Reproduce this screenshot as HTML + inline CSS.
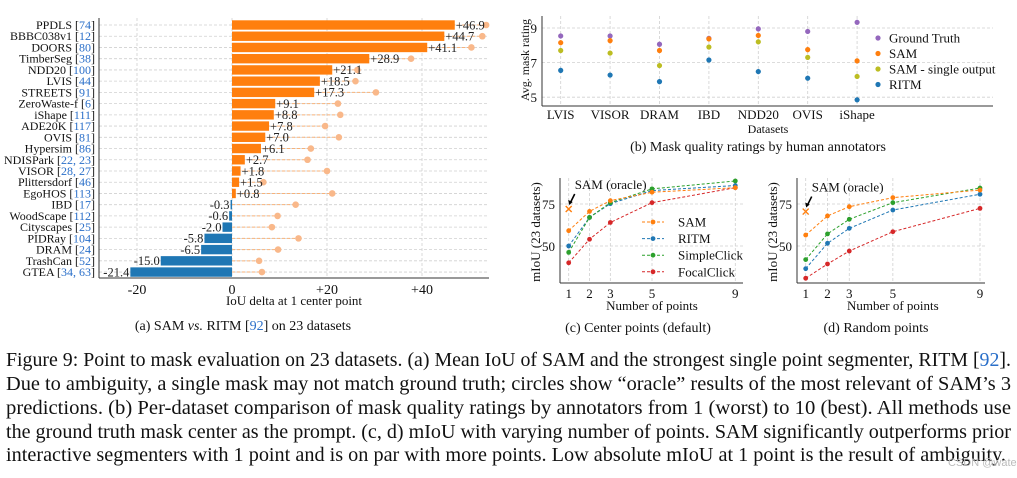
<!DOCTYPE html>
<html><head><meta charset="utf-8"><style>
html,body{margin:0;padding:0;background:#fff;}
svg{display:block;font-family:"Liberation Serif",serif;}
</style></head><body>
<svg id="fig" width="1017" height="478" viewBox="0 0 1017 478" xmlns="http://www.w3.org/2000/svg">
<g id="pa"></g>
<g id="pb"></g>
<g id="pc"></g>
<g id="pd"></g>
<g font-size="20" fill="#111">
<text x="6" y="366" textLength="1005" lengthAdjust="spacingAndGlyphs">Figure 9: Point to mask evaluation on 23 datasets. (a) Mean IoU of SAM and the strongest single point segmenter, RITM [<tspan fill="#2a6fc9">92</tspan>].</text>
<text x="6" y="390" textLength="1005" lengthAdjust="spacingAndGlyphs">Due to ambiguity, a single mask may not match ground truth; circles show “oracle” results of the most relevant of SAM’s 3</text>
<text x="6" y="414" textLength="1005" lengthAdjust="spacingAndGlyphs">predictions. (b) Per-dataset comparison of mask quality ratings by annotators from 1 (worst) to 10 (best). All methods use</text>
<text x="6" y="438" textLength="1005" lengthAdjust="spacingAndGlyphs">the ground truth mask center as the prompt. (c, d) mIoU with varying number of points. SAM significantly outperforms prior</text>
<text x="6" y="461" textLength="1000" lengthAdjust="spacingAndGlyphs">interactive segmenters with 1 point and is on par with more points. Low absolute mIoU at 1 point is the result of ambiguity.</text>
<text x="948" y="466" font-family="Liberation Sans, sans-serif" font-size="11" fill="#bbb">CSDN @watersink</text>
</g>
</svg>
<script>
// ---- Panel A data ----
const aNames=["PPDLS","BBBC038v1","DOORS","TimberSeg","NDD20","LVIS","STREETS","ZeroWaste-f","iShape","ADE20K","OVIS","Hypersim","NDISPark","VISOR","Plittersdorf","EgoHOS","IBD","WoodScape","Cityscapes","PIDRay","DRAM","TrashCan","GTEA"];
const aRefs=["74","12","80","38","100","44","91","6","111","117","81","86","22, 23","28, 27","46","113","17","112","25","104","24","52","34, 63"];
const aDelta=[46.9,44.7,41.1,28.9,21.1,18.5,17.3,9.1,8.8,7.8,7.0,6.1,2.7,1.8,1.5,0.8,-0.3,-0.6,-2.0,-5.8,-6.5,-15.0,-21.4];
const aOracle=[53.5,52.7,50.4,37.7,26.4,26.0,30.3,22.3,22.8,19.6,22.5,16.6,15.9,20.0,6.6,21.1,13.4,9.6,8.4,14.0,9.7,5.7,6.3];
const aTicks=[-20,0,20,40];
const aTickLabels=["-20","0","+20","+40"];
// ---- Panel B data ----
const bCats=["LVIS","VISOR","DRAM","IBD","NDD20","OVIS","iShape"];
const bGT=[8.54,8.54,8.06,8.4,8.95,8.8,9.33];
const bSAM=[8.15,8.27,7.7,8.37,8.57,7.75,7.1];
const bSingle=[7.7,7.55,6.83,7.9,8.2,7.3,6.2];
const bRITM=[6.55,6.28,5.9,7.15,6.48,6.1,4.85];
const bTicks=[5,7,9];
// ---- Panel C/D data ----
const pts=[1,2,3,5,9];
const cSAM=[59.1,70.6,77,82,84.7];
const cRITM=[50,67,75.2,83,86];
const cSimple=[46.2,67,75.8,84,88.7];
const cFocal=[40,54,64,75.8,84.7];
const cOracle=72;
const dSAM=[56.5,67.9,73.4,78.8,83.3];
const dRITM=[36.5,51.6,60.5,71.4,80.8];
const dSimple=[41.9,57.2,65.9,75.8,84.5];
const dFocal=[30.8,39.3,47,58.5,72.4];
const dOracle=70.5;
const yTicksCD=[50,75];

const NS="http://www.w3.org/2000/svg";
function mk(parent,tag,attrs,text){const e=document.createElementNS(NS,tag);for(const k in attrs)e.setAttribute(k,attrs[k]);if(text!==undefined)e.textContent=text;parent.appendChild(e);return e;}
const ORANGE="#ff7f0e",BLUE="#1f77b4",GREEN="#2ca02c",RED="#d62728",PURPLE="#9467bd",OLIVE="#bcbd22",GRID="#d0d0d0",SPINE="#333";

// ===== Panel A =====
(function(){
const g=document.getElementById('pa');
const x=v=>232+v*4.75, y=i=>25+i*11.23;
const L=99,R=489,T=18,B=278;
aTicks.forEach((t,i)=>{
  const gl=mk(g,'line',{x1:x(t),x2:x(t),y1:T,y2:B,stroke:GRID,'stroke-dasharray':'3,2','stroke-width':0.8});
  
  
  const tl=mk(g,'text',{x:x(t),y:294,'font-size':14,'text-anchor':'middle',fill:'#111'},aTickLabels[i]);
  
  
});
aNames.forEach((n,i)=>{
  const yy=y(i);
  mk(g,'line',{x1:L,x2:R,y1:yy,y2:yy,stroke:GRID,'stroke-dasharray':'3,2','stroke-width':0.8});
  const ol=mk(g,'line',{x1:x(0),x2:x(aOracle[i]),y1:yy,y2:yy,stroke:'#f7b27a','stroke-dasharray':'3,2','stroke-width':1});
  
  
  const oc=mk(g,'circle',{cx:x(aOracle[i]),cy:yy,r:3.3,fill:'#f9b88a'});
  
  
  const v=aDelta[i];
  const bar=mk(g,'rect',{x:Math.min(x(0),x(v)),y:yy-4.7,width:Math.max(Math.abs(x(v)-x(0)),1.5),height:9.4,fill:v>=0?ORANGE:BLUE});
  
  
  const lbl=v>=0?'+'+v.toFixed(1):v.toFixed(1);
  const vl=mk(g,'text',{x:v>=0?x(v)+1:x(v)-1,y:yy+4.3,'font-size':12.5,'text-anchor':v>=0?'start':'end',fill:'#222'},lbl);
  
  
  const yl=mk(g,'text',{x:95,y:yy+4,'font-size':12,'text-anchor':'end',fill:'#111'});
  
  
  mk(yl,'tspan',{},n+' [');mk(yl,'tspan',{fill:'#2a6fc9'},aRefs[i]);mk(yl,'tspan',{},']');
});
mk(g,'line',{x1:L,x2:L,y1:T,y2:B,stroke:SPINE,'stroke-width':1});
mk(g,'line',{x1:L,x2:R,y1:B,y2:B,stroke:SPINE,'stroke-width':1});
const xt=mk(g,'text',{x:294,y:305,'font-size':13,'text-anchor':'middle',fill:'#111'},'IoU delta at 1 center point');


const cap=mk(g,'text',{x:243,y:330,'font-size':14,'text-anchor':'middle',fill:'#111'});


mk(cap,'tspan',{},'(a) SAM ');mk(cap,'tspan',{'font-style':'italic'},'vs.');mk(cap,'tspan',{},' RITM [');mk(cap,'tspan',{fill:'#2a6fc9'},'92');mk(cap,'tspan',{},'] on 23 datasets');
})();

// ===== Panel B =====
(function(){
const g=document.getElementById('pb');
const L=542,R=993,T=16,B=106;
const x=i=>560.7+i*49.4, y=v=>28+(9-v)*17.3;
bTicks.forEach(t=>{
  mk(g,'line',{x1:L,x2:R,y1:y(t),y2:y(t),stroke:GRID,'stroke-dasharray':'3,2','stroke-width':0.8});
  const tl=mk(g,'text',{x:L-5,y:y(t)+5,'font-size':13,'text-anchor':'end',fill:'#111'},String(t));
  
  
});
bCats.forEach((c,i)=>{
  mk(g,'line',{x1:x(i),x2:x(i),y1:T,y2:B,stroke:GRID,'stroke-dasharray':'3,2','stroke-width':0.8});
  const tl=mk(g,'text',{x:x(i),y:119,'font-size':13,'text-anchor':'middle',fill:'#111'},c);
  
  
});
const series=[[bGT,PURPLE,'gt'],[bSAM,ORANGE,'sam'],[bSingle,OLIVE,'sam-single'],[bRITM,BLUE,'ritm']];
series.forEach(([arr,col,nm])=>{
  arr.forEach((v,i)=>{
    mk(g,'line',{x1:x(i),x2:x(i),y1:y(v)-2.5,y2:y(v)+2.5,stroke:col,'stroke-width':1.2});
    const p=mk(g,'circle',{cx:x(i),cy:y(v),r:2.6,fill:col});
    
    
  });
});
mk(g,'line',{x1:L,x2:L,y1:T,y2:B,stroke:SPINE,'stroke-width':1});
mk(g,'line',{x1:L,x2:R,y1:B,y2:B,stroke:SPINE,'stroke-width':1});
const yt=mk(g,'text',{x:0,y:0,'font-size':12,'text-anchor':'middle',fill:'#111',transform:'translate(529,60) rotate(-90)'},'Avg. mask rating');


const xt=mk(g,'text',{x:768,y:133,'font-size':12,'text-anchor':'middle',fill:'#111'},'Datasets');


const leg=[['Ground Truth',PURPLE],['SAM',ORANGE],['SAM - single output',OLIVE],['RITM',BLUE]];
leg.forEach(([t,c],i)=>{
  const yy=38+i*15.5;
  mk(g,'circle',{cx:878,cy:yy,r:2.6,fill:c});
  const lt=mk(g,'text',{x:889,y:yy+4.5,'font-size':13,fill:'#111'},t);
  
  
});
const cap=mk(g,'text',{x:758,y:151,'font-size':14,'text-anchor':'middle',fill:'#111'},'(b) Mask quality ratings by human annotators');


})();

// ===== Panels C & D =====
function lineChart(id,L,R,x1px,x9px,S,RI,SI,FO,orc,caption,capX,legend){
  const g=document.getElementById(id);
  const T=178,B=283;
  const x=v=>x1px+(v-1)*(x9px-x1px)/8, y=v=>204+(75-v)*1.68;
  pts.forEach(p=>{
    mk(g,'line',{x1:x(p),x2:x(p),y1:T,y2:B,stroke:GRID,'stroke-dasharray':'3,2','stroke-width':0.8});
    const tl=mk(g,'text',{x:x(p),y:298,'font-size':13,'text-anchor':'middle',fill:'#111'},String(p));
    
    
  });
  yTicksCD.forEach(t=>{
    mk(g,'line',{x1:L,x2:R,y1:y(t),y2:y(t),stroke:GRID,'stroke-dasharray':'3,2','stroke-width':0.8});
    const tl=mk(g,'text',{x:L-5,y:y(t)+5,'font-size':13,'text-anchor':'end',fill:'#111'},String(t));
    
    
  });
  const series=[[FO,RED,'focalclick'],[RI,BLUE,'ritm'],[SI,GREEN,'simpleclick'],[S,ORANGE,'sam']];
  series.forEach(([arr,col,nm])=>{
    const d=arr.map((v,i)=>(i?'L':'M')+x(pts[i])+','+y(v)).join(' ');
    const pl=mk(g,'path',{d:d,fill:'none',stroke:col,'stroke-width':1,'stroke-dasharray':'3,2'});
    
    
    arr.forEach((v,i)=>{
      const c=mk(g,'circle',{cx:x(pts[i]),cy:y(v),r:2.4,fill:col});
      
      
    });
  });
  const ox=x(1),oy=y(orc);
  const om=mk(g,'path',{d:`M${ox-3},${oy-3}L${ox+3},${oy+3}M${ox-3},${oy+3}L${ox+3},${oy-3}`,stroke:ORANGE,'stroke-width':1.4});
  
  
  mk(g,'line',{x1:ox+6,y1:oy-15,x2:ox+1.5,y2:oy-6,stroke:'#000','stroke-width':1.6});
  mk(g,'path',{d:`M${ox+0.5},${oy-4} L${ox-0.5},${oy-9} L${ox+4},${oy-7} Z`,fill:'#000'});
  const ot=mk(g,'text',{x:ox+6,y:oy-20,'font-size':13,fill:'#111'},'SAM (oracle)');
  
  
  mk(g,'line',{x1:L,x2:L,y1:T,y2:B,stroke:SPINE,'stroke-width':1});
  mk(g,'line',{x1:L,x2:R,y1:B,y2:B,stroke:SPINE,'stroke-width':1});
  const yt=mk(g,'text',{x:0,y:0,'font-size':13,'text-anchor':'middle',fill:'#111',transform:`translate(${L-20},232) rotate(-90)`},'mIoU (23 datasets)');
  
  
  const xt=mk(g,'text',{x:(x(1)+x(9))/2,y:310,'font-size':13,'text-anchor':'middle',fill:'#111'},'Number of points');
  
  
  const cap=mk(g,'text',{x:capX,y:332,'font-size':14,'text-anchor':'middle',fill:'#111'},caption);
  
  
  if(legend){
    [['SAM',ORANGE],['RITM',BLUE],['SimpleClick',GREEN],['FocalClick',RED]].forEach(([t,c],i)=>{
      const yy=222+i*16.6;
      mk(g,'line',{x1:642,x2:664,y1:yy,y2:yy,stroke:c,'stroke-width':1,'stroke-dasharray':'3,2'});
      mk(g,'circle',{cx:653,cy:yy,r:2.4,fill:c});
      const lt=mk(g,'text',{x:678,y:yy+4.5,'font-size':13,fill:'#111'},t);
      
      
    });
  }
}
lineChart('pc',560,743,568.7,735.3,cSAM,cRITM,cSimple,cFocal,cOracle,'(c) Center points (default)',638,true);
lineChart('pd',797,985,805.7,980,dSAM,dRITM,dSimple,dFocal,dOracle,'(d) Random points',876,false);
</script>
</body></html>
